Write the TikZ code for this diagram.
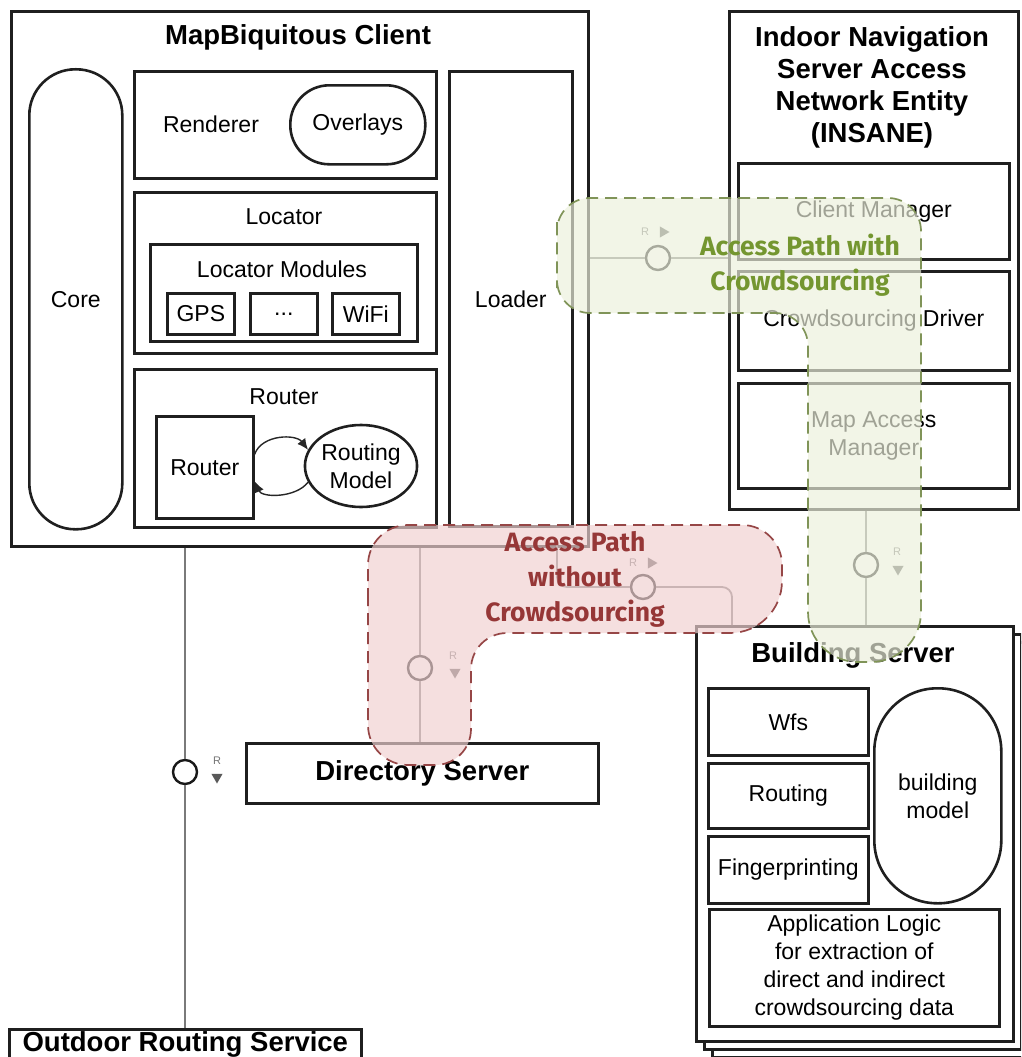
\documentclass[tikz,border=0pt]{standalone}
\usepackage{fontspec}
\setmainfont{Liberation Sans}
\newfontfamily\pathfont{Fira Sans}
\usetikzlibrary{arrows.meta,shapes.geometric}
\definecolor{gfill}{RGB}{236,240,220}
\definecolor{gline}{RGB}{128,148,88}
\definecolor{gtext}{RGB}{116,150,48}
\definecolor{rfill}{RGB}{240,208,208}
\definecolor{rline}{RGB}{150,70,70}
\definecolor{rtext}{RGB}{150,55,55}
\begin{document}
\begin{tikzpicture}[x=1pt,y=-1pt,
  box/.style={draw=black!88, line width=2.6pt, inner sep=0pt},
  wbox/.style={box, fill=white},
  txt/.style={font=\fontsize{23}{28}\selectfont},
  btxt/.style={font=\fontsize{27.5}{32}\selectfont\bfseries},
  conn/.style={draw=black!52, line width=1.8pt},
  iface/.style={circle, draw=black!90, fill=white, line width=2.4pt, minimum size=24pt, inner sep=0pt},
  rlab/.style={font=\fontsize{11}{11}\selectfont, text=black!55, inner sep=0pt},
  tridown/.style={regular polygon, regular polygon sides=3, shape border rotate=180, fill=black!65, inner sep=0pt, minimum size=13pt},
  triright/.style={regular polygon, regular polygon sides=3, shape border rotate=-90, fill=black!65, inner sep=0pt, minimum size=13pt},
  blob/.style={line width=1.7pt, dash pattern=on 12pt off 7pt, fill opacity=.68},
  pathtxt/.style={font=\pathfont\fontsize{26.5}{35}\selectfont\bfseries, align=center, inner sep=0pt},
  tip/.style={-{Latex[length=11pt,width=10pt]}, line width=1.4pt, draw=black!85}
]
\useasboundingbox (0,0) rectangle (1021,1057);
\clip (0,0) rectangle (1021,1057);

% ---------- Building server stack ----------
\node[wbox, anchor=north west, minimum width=317pt, minimum height=415pt] (bs3) at (711,641) {};
\node[wbox, anchor=north west, minimum width=317pt, minimum height=415pt] (bs2) at (703,633) {};
\node[wbox, anchor=north west, minimum width=317pt, minimum height=415pt] (bs) at (695,625) {};
\node[btxt] (bsT) at (853,655) {Building Server};
\node[box, txt, anchor=north west, minimum width=160pt, minimum height=67pt] (wfs) at (707,687) {Wfs};
\node[box, txt, anchor=north west, minimum width=160pt, minimum height=65pt] (routing) at (707,762) {Routing};
\node[box, txt, anchor=north west, minimum width=160pt, minimum height=67pt] (fp) at (707,835) {Fingerprinting};
\node[box, txt, align=center, rounded corners=63pt, anchor=north west, minimum width=127pt, minimum height=215pt] (bm) at (873,687) {building\\model};
\node[box, txt, align=center, anchor=north west, minimum width=290pt, minimum height=117pt] (app) at (708,908) {Application Logic\\for extraction of\\direct and indirect\\crowdsourcing data};

% ---------- Client ----------
\node[box, anchor=north west, minimum width=577pt, minimum height=535pt] (client) at (10,10) {};
\node[btxt] (clientT) at (298,37) {MapBiquitous Client};
\node[box, txt, rounded corners=46pt, anchor=north west, minimum width=93pt, minimum height=460pt] (core) at (28,68) {Core};
\node[box, anchor=north west, minimum width=302pt, minimum height=107pt] (renderer) at (133,70) {};
\node[txt] (rendT) at (211,124) {Renderer};
\node[box, txt, rounded corners=39pt, anchor=north west, minimum width=135pt, minimum height=79pt] (overlays) at (289,84) {Overlays};
\node[box, anchor=north west, minimum width=302pt, minimum height=161pt] (locator) at (133,191) {};
\node[txt] (locT) at (284,217) {Locator};
\node[box, anchor=north west, minimum width=267pt, minimum height=97pt] (locmod) at (149,243) {};
\node[txt] (locmodT) at (282,269) {Locator Modules};
\node[box, txt, anchor=north west, minimum width=67pt, minimum height=41pt] (gps) at (166,292) {GPS};
\node[box, txt, anchor=north west, minimum width=67pt, minimum height=41pt] (dots) at (249,292) {...};
\node[box, txt, anchor=north west, minimum width=67pt, minimum height=41pt] (wifi) at (331,292) {WiFi};
\node[box, anchor=north west, minimum width=302pt, minimum height=158pt] (router) at (133,368) {};
\node[txt] (routerT) at (284,397) {Router};
\node[box, txt, anchor=north west, minimum width=97pt, minimum height=102pt] (routerin) at (155,415) {Router};
\node[box, txt, ellipse, align=center, minimum width=110pt, minimum height=82pt, inner sep=0pt] (rm) at (361,466) {Routing\\Model};
\draw[tip] ([yshift=13pt]routerin.east) .. controls (262,434) and (296,434) .. (rm.163);
\draw[tip] (rm.197) .. controls (296,498) and (262,498) .. ([yshift=-14pt]routerin.east);
\node[box, txt, anchor=north west, minimum width=123pt, minimum height=455pt] (loader) at (448,70) {Loader};

% ---------- INSANE ----------
\node[box, anchor=north west, minimum width=289pt, minimum height=498pt] (insane) at (728,10) {};
\node[btxt, align=center] (insT) at (872,87) {Indoor Navigation\\Server Access\\Network Entity\\(INSANE)};
\node[box, txt, anchor=north west, minimum width=271pt, minimum height=96pt] (cm) at (737,162) {Client Manager};
\node[box, txt, anchor=north west, minimum width=271pt, minimum height=99pt] (cd) at (737,270) {Crowdsourcing Driver};
\node[box, txt, align=center, anchor=north west, minimum width=271pt, minimum height=105pt] (mam) at (737,382) {Map Access\\Manager};

% ---------- other servers ----------
\node[box, btxt, anchor=north west, minimum width=352pt, minimum height=60pt] (dir) at (245,742) {Directory Server};
\node[box, btxt, anchor=north west, minimum width=352pt, minimum height=30pt] (outdoor) at (8,1028) {Outdoor Routing Service};

% ---------- connectors ----------
\node[iface] (c1) at (185,772) {};
\node[iface] (c2) at (420,668) {};
\node[iface] (c3) at (643,587) {};
\node[iface] (c4) at (866,565) {};
\node[iface] (c5) at (658,258) {};
\coordinate (clOut) at (557,545);
\coordinate (bsIn) at (732,625);
\draw[conn] (client.south -| c1) -- (c1.north);
\draw[conn] (c1.south) -- (outdoor.north -| c1);
\draw[conn] (client.south -| c2) -- (c2.north);
\draw[conn] (c2.south) -- (dir.north -| c2);
\draw[conn, rounded corners=10pt] (clOut) |- (c3.west);
\draw[conn, rounded corners=10pt] (c3.east) -| (bsIn);
\draw[conn] (insane.south -| c4) -- (c4.north);
\draw[conn] (c4.south) -- (bs.north -| c4);
\draw[conn] (client.east |- c5) -- (c5.west);
\draw[conn] (c5.east) -- (insane.west |- c5);

\node[rlab] (r1) at (217,761) {R};
\node[tridown] (t1) at (217,777) {};
\node[rlab] (r2) at (453,656) {R};
\node[tridown] (t2) at (455,672) {};
\node[rlab] (r3) at (633,563) {R};
\node[triright] (t3) at (651,563) {};
\node[rlab] (r4) at (897,552) {R};
\node[tridown] (t4) at (898,569) {};
\node[rlab] (r5) at (645,232) {R};
\node[triright] (t5) at (663,232) {};

% ---------- access path overlays ----------
\path[blob, draw=gline, fill=gfill]
  (557,255) [rounded corners=33pt] -- (557,198) -- (921,198) [rounded corners=50pt] -- (921,662) -- (808,662) [rounded corners=33pt] -- (808,313) -- (557,313) -- cycle;
\path[blob, draw=rline, fill=rfill]
  (368,640) [rounded corners=40pt] -- (368,525) -- (782,525) [rounded corners=52pt] -- (782,633) [rounded corners=36pt] -- (471,633) -- (471,765) [rounded corners=40pt] -- (368,765) -- cycle;
\node[pathtxt, text=gtext] (gT) at (800,265) {Access Path with\\Crowdsourcing};
\node[pathtxt, text=rtext] (rT) at (575,579) {Access Path\\without\\Crowdsourcing};
\end{tikzpicture}
\end{document}
